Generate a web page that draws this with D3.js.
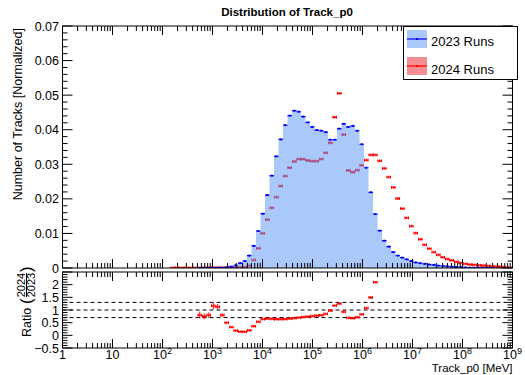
<!DOCTYPE html>
<html>
<head>
<meta charset="utf-8">
<script src="https://cdn.jsdelivr.net/npm/d3@7"></script>
<style>
body { margin: 0; background: #fff; }
text { font-family: "Liberation Sans", Arial, Helvetica, sans-serif; }
</style>
</head>
<body>
<div id="chart"></div>
<script>
// binning: 100 log bins from 10^0 to 10^9 MeV
const nBins = 100;
const logMin = 0, logMax = 9;

// 2023 runs, normalized, starting at bin 30
const first2023 = 30;
const runs2023 = [
  0.00003, 0.00004, 0.00005, 0.00006, 0.00008, 0.0001, 0.0002, 0.0004, 0.0008, 0.0014,
  0.0020, 0.0036, 0.0064, 0.0107, 0.0157, 0.0211, 0.0267, 0.0323, 0.0372, 0.0413,
  0.0441, 0.0455, 0.0452, 0.0438, 0.0421, 0.0408, 0.0399, 0.0397, 0.0393, 0.0371,
  0.0371, 0.0403, 0.0417, 0.0408, 0.0411, 0.0397, 0.0358, 0.0290, 0.0219, 0.0156,
  0.0108, 0.0079, 0.0062, 0.0046, 0.0036, 0.0030, 0.0025, 0.0020, 0.0016, 0.0014,
  0.0012, 0.0010, 0.0009, 0.0007, 0.0006, 0.0005, 0.0004, 0.0003, 0.0002, 0.00015,
  0.0001, 0.00008, 0.00006, 0.00004, 0.00003, 0.00002
];

// 2024 runs, normalized, starting at bin 24
const first2024 = 24;
const runs2024 = [
  0.00004, 0.00004, 0.00005, 0.00005, 0.00005, 0.00005,
  0.000024, 0.00003, 0.00004, 0.00007, 0.00009, 0.00008, 0.0001, 0.00013, 0.00015, 0.0002,
  0.00028, 0.0007, 0.0023, 0.0057, 0.0100, 0.0140, 0.0174, 0.0205, 0.0237, 0.0266,
  0.0290, 0.0308, 0.0315, 0.0315, 0.0311, 0.0309, 0.0309, 0.0315, 0.0333, 0.0362,
  0.0436, 0.0505, 0.0386, 0.0282, 0.0277, 0.0283, 0.0297, 0.0312, 0.0327, 0.0327,
  0.0310, 0.0288, 0.0263, 0.0233, 0.0201, 0.0172, 0.0145, 0.0121, 0.0101, 0.0083,
  0.0067, 0.0056, 0.0046, 0.0038, 0.0031, 0.0026, 0.0022, 0.0018, 0.0015, 0.0012,
  0.0010, 0.0009, 0.0008, 0.0007, 0.0006, 0.0005, 0.0004, 0.0003, 0.0002, 0.0001
];

const yTicksTop = [0, 0.01, 0.02, 0.03, 0.04, 0.05, 0.06, 0.07];
const yTicksRatio = [-0.5, 0, 0.5, 1, 1.5, 2];
const ratioLines = [0.7, 1.0, 1.3];
const decades = d3.range(0, 10);
const legendItems = ["2023 Runs", "2024 Runs"];

const width = 525, height = 375;
const left = 62.5, right = 512.5;
const top1 = 26, bot1 = 268;
const top2 = 272, bot2 = 348;

const svg = d3.select("#chart").append("svg")
    .attr("width", width)
    .attr("height", height);

const x = d3.scaleLog().domain([1, 1e9]).range([left, right]);
const y = d3.scaleLinear().domain([0, 0.07]).range([bot1, top1]);
const yr = d3.scaleLinear().domain([-0.5, 2.5]).range([bot2, top2]);

const edge = i => Math.pow(10, logMin + (logMax - logMin) * i / nBins);
const mid = i => Math.pow(10, logMin + (logMax - logMin) * (i + 0.5) / nBins);

const h23 = runs2023.map((v, k) => ({ i: first2023 + k, v: v }));
const h24 = runs2024.map((v, k) => ({ i: first2024 + k, v: v }));
const map23 = new Map(h23.map(d => [d.i, d.v]));

const blueFill = "rgb(85,145,245)";
const red = "#ff0000", blue = "#0000ff";

svg.append("clipPath").attr("id", "clipTop")
  .append("rect").attr("x", left).attr("y", top1).attr("width", right - left).attr("height", bot1 - top1);
svg.append("clipPath").attr("id", "clipRat")
  .append("rect").attr("x", left).attr("y", top2).attr("width", right - left).attr("height", bot2 - top2);

// ---------- top panel ----------
const gTop = svg.append("g").attr("clip-path", "url(#clipTop)");

// 2024 markers (drawn first, blue fill goes over them)
function drawMarker(g, cx0, cx1, cy, err, color) {
  const cx = (cx0 + cx1) / 2;
  g.append("line").attr("x1", cx0).attr("x2", cx1).attr("y1", cy).attr("y2", cy)
    .attr("stroke", color).attr("stroke-width", 1.3);
  g.append("line").attr("x1", cx0 + 0.5).attr("x2", cx0 + 0.5).attr("y1", cy - 1.4).attr("y2", cy + 1.4)
    .attr("stroke", color).attr("stroke-width", 1);
  g.append("line").attr("x1", cx1 - 0.5).attr("x2", cx1 - 0.5).attr("y1", cy - 1.4).attr("y2", cy + 1.4)
    .attr("stroke", color).attr("stroke-width", 1);
  g.append("line").attr("x1", cx).attr("x2", cx).attr("y1", cy - err).attr("y2", cy + err)
    .attr("stroke", color).attr("stroke-width", 1);
}

const gRed = gTop.append("g");
h24.forEach(d => {
  drawMarker(gRed, x(edge(d.i)), x(edge(d.i + 1)), y(d.v), 1.3, red);
});

// 2023 filled histogram
const stepPts = [];
h23.forEach(d => {
  stepPts.push([edge(d.i), d.v]);
  stepPts.push([edge(d.i + 1), d.v]);
});
gTop.append("path")
  .datum(stepPts)
  .attr("fill", blueFill)
  .attr("fill-opacity", 0.5)
  .attr("d", d3.area().x(d => x(d[0])).y0(y(0)).y1(d => y(d[1])));

// 2023 bin tops
gTop.selectAll(".top23").data(h23).enter().append("line")
  .attr("x1", d => x(edge(d.i))).attr("x2", d => x(edge(d.i + 1)))
  .attr("y1", d => y(d.v)).attr("y2", d => y(d.v))
  .attr("stroke", blue).attr("stroke-width", 1.2);
gTop.selectAll(".dot23").data(h23).enter().append("rect")
  .attr("x", d => x(mid(d.i)) - 1).attr("y", d => y(d.v) - 1)
  .attr("width", 2).attr("height", 2).attr("fill", blue);

// ---------- ratio panel ----------
const gRat = svg.append("g").attr("clip-path", "url(#clipRat)");

gRat.selectAll(".ref").data(ratioLines).enter().append("line")
  .attr("x1", left).attr("x2", right)
  .attr("y1", d => yr(d)).attr("y2", d => yr(d))
  .attr("stroke", "#000").attr("stroke-width", 1)
  .attr("stroke-dasharray", "4,3");

const ratio = h24.filter(d => map23.has(d.i) && map23.get(d.i) > 0).map(d => {
  const b = map23.get(d.i);
  const r = d.v / b;
  const err = r * Math.sqrt(4e-7 / b + 4e-7 / d.v);
  return { i: d.i, r: r, err: err };
});
ratio.forEach(d => {
  const px = (yr(d.r) - yr(d.r + d.err));
  drawMarker(gRat, x(edge(d.i)), x(edge(d.i + 1)), yr(d.r), Math.max(1.3, px), red);
});

// ---------- axes / frames ----------
function frame(t, b) {
  svg.append("rect").attr("x", left).attr("y", t).attr("width", right - left).attr("height", b - t)
    .attr("fill", "none").attr("stroke", "#000").attr("stroke-width", 1);
}
frame(top1, bot1);
frame(top2, bot2);

const minorX = [];
decades.forEach(k => { if (k < 9) for (let m = 2; m <= 9; m++) minorX.push(m * Math.pow(10, k)); });
const majorX = decades.map(k => Math.pow(10, k));

function xTicks(t, b, lenMaj, lenMin) {
  const g = svg.append("g").attr("stroke", "#000").attr("stroke-width", 1);
  majorX.forEach(v => {
    const px = x(v);
    g.append("line").attr("x1", px).attr("x2", px).attr("y1", b).attr("y2", b - lenMaj);
    g.append("line").attr("x1", px).attr("x2", px).attr("y1", t).attr("y2", t + lenMaj);
  });
  minorX.forEach(v => {
    const px = x(v);
    g.append("line").attr("x1", px).attr("x2", px).attr("y1", b).attr("y2", b - lenMin);
    g.append("line").attr("x1", px).attr("x2", px).attr("y1", t).attr("y2", t + lenMin);
  });
}
xTicks(top1, bot1, 9, 5);
xTicks(top2, bot2, 9, 5);

function yTicks(scale, d0, d1, majStep, nMin, lenMaj, lenMin) {
  const g = svg.append("g").attr("stroke", "#000").attr("stroke-width", 1);
  const n = Math.round((d1 - d0) / majStep * nMin);
  for (let k = 0; k <= n; k++) {
    const v = d0 + k * majStep / nMin;
    const py = scale(v);
    const len = (k % nMin === 0) ? lenMaj : lenMin;
    g.append("line").attr("x1", left).attr("x2", left + len).attr("y1", py).attr("y2", py);
    g.append("line").attr("x1", right).attr("x2", right - len).attr("y1", py).attr("y2", py);
  }
}
yTicks(y, 0, 0.07, 0.01, 5, 10, 5);
yTicks(yr, -0.5, 2.5, 0.5, 5, 10, 5);

// tick labels
const fs = 12.5;
svg.append("g").selectAll("text").data(yTicksTop).enter().append("text")
  .attr("x", 59).attr("y", d => y(d) + 4.5)
  .attr("text-anchor", "end").attr("font-size", fs)
  .text(d => d === 0 ? "0" : d3.format(".2f")(d));
svg.append("g").selectAll("text").data(yTicksRatio).enter().append("text")
  .attr("x", 59).attr("y", d => yr(d) + 4.5)
  .attr("text-anchor", "end").attr("font-size", fs)
  .text(d => d < 0 ? "\u22120.5" : String(d));

const xl = svg.append("g").selectAll("text").data(decades).enter().append("text")
  .attr("x", d => x(Math.pow(10, d)))
  .attr("y", 359)
  .attr("text-anchor", "middle").attr("font-size", fs);
xl.each(function(d) {
  const t = d3.select(this);
  if (d === 0) { t.text("1"); return; }
  if (d === 1) { t.text("10"); return; }
  t.append("tspan").text("10");
  t.append("tspan").attr("dy", -5).attr("font-size", 9).text(d);
});

// axis titles
svg.append("text")
  .attr("x", right).attr("y", 372.3)
  .attr("text-anchor", "end").attr("font-size", 11.5)
  .text("Track_p0 [MeV]");

svg.append("text")
  .attr("transform", "translate(22," + (top1 + 2) + ") rotate(-90)")
  .attr("text-anchor", "end").attr("font-size", 12.5)
  .text("Number of Tracks [Normalized]");

const rl = svg.append("g").attr("transform", "translate(31,337) rotate(-90)");
rl.append("text").attr("x", 0).attr("y", 0).attr("font-size", 12.5).text("Ratio");
rl.append("text").attr("x", 33).attr("y", 1).attr("font-size", 17).attr("font-weight", 300).text("(");
rl.append("text").attr("x", 52).attr("y", -6).attr("font-size", 11).attr("text-anchor", "middle").text("2024");
rl.append("line").attr("x1", 40).attr("x2", 64).attr("y1", -4.5).attr("y2", -4.5).attr("stroke", "#000");
rl.append("text").attr("x", 52).attr("y", 4).attr("font-size", 11).attr("text-anchor", "middle").text("2023");
rl.append("text").attr("x", 65).attr("y", 1).attr("font-size", 17).attr("font-weight", 300).text(")");

// title
svg.append("text")
  .attr("x", 287).attr("y", 16)
  .attr("text-anchor", "middle").attr("font-size", 11.5).attr("font-weight", "bold")
  .text("Distribution of Track_p0");

// ---------- legend ----------
const lg = svg.append("g");
lg.append("rect").attr("x", 403.5).attr("y", 26.5).attr("width", 114).attr("height", 53)
  .attr("fill", "#fff").attr("stroke", "#000").attr("stroke-width", 1);
const legColors = [[blueFill, blue, 0.5], ["rgb(235,30,40)", red, 0.5]];
legendItems.forEach((name, k) => {
  const cy = 39 + k * 27;
  lg.append("rect").attr("x", 407).attr("y", cy - 9).attr("width", 20).attr("height", 18)
    .attr("fill", legColors[k][0]).attr("fill-opacity", legColors[k][2]);
  lg.append("line").attr("x1", 407).attr("x2", 427).attr("y1", cy).attr("y2", cy)
    .attr("stroke", legColors[k][1]).attr("stroke-width", 1.2);
  lg.append("rect").attr("x", 416).attr("y", cy - 1).attr("width", 2).attr("height", 2)
    .attr("fill", legColors[k][1]);
  lg.append("text").attr("x", 431).attr("y", cy + 7 + (k ? 1 : 0)).attr("font-size", 13).text(name);
});
</script>
</body>
</html>
